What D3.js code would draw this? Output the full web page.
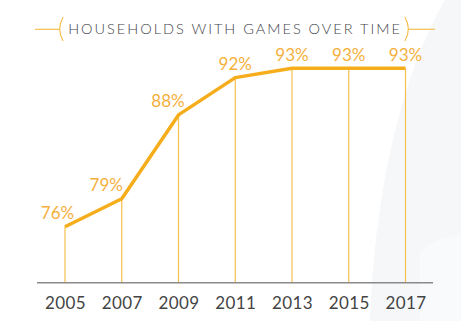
<!DOCTYPE html>
<html><head><meta charset="utf-8">
<script src="https://cdn.jsdelivr.net/npm/d3@7"></script>
<style>
html,body{margin:0;padding:0;background:#fff;}
svg{display:block;}
</style></head>
<body>
<svg id="chart" width="461" height="321"></svg>
<script>
const title = "HOUSEHOLDS WITH GAMES OVER TIME";
const years = ["2005","2007","2009","2011","2013","2015","2017"];
const values = [76, 79, 88, 92, 93, 93, 93];
const labels = ["76%","79%","88%","92%","93%","93%","93%"];

const W = 461, H = 321;
const svg = d3.select("#chart");

// faint decorative background shape
svg.append("path")
  .attr("d", "M461,0 L445,0 C405,70 375,180 370,321 L461,321 Z")
  .attr("fill", "#f5f7f9");
svg.append("path")
  .attr("d", "M461,235 C440,238 425,245 420,252 L420,321 L461,321 Z")
  .attr("fill", "#f9fafb");

const x = d3.scalePoint().domain(years).range([65, 405.5]);
const y = d3.scaleLinear().domain([70, 93]).range([282.7, 68.3]);

const gold = "#f6ad1b";
const light = "#f6bf4e";
const labelCol = "#f4b03c";

// vertical drop lines
svg.append("g").selectAll("line").data(years).join("line")
  .attr("x1", d => x(d)).attr("x2", d => x(d))
  .attr("y1", (d, i) => y(values[i])).attr("y2", y(70))
  .attr("stroke", light).attr("stroke-width", 1.2);

// axis
const axis = d3.axisBottom(x).tickSize(0).tickPadding(14);
const gA = svg.append("g").attr("transform", `translate(0,${y(70)})`).call(axis);
gA.select(".domain").remove();
gA.selectAll("text")
  .attr("font-family", "Lato, 'Open Sans', sans-serif")
  .attr("font-size", 17).attr("font-weight", 400)
  .attr("fill", "#444").attr("letter-spacing", 0.4);
svg.append("line")
  .attr("x1", 37).attr("x2", 433)
  .attr("y1", y(70)).attr("y2", y(70))
  .attr("stroke", "#8a8a8a").attr("stroke-width", 1.5);

// main line
const line = d3.line().x((d, i) => x(years[i])).y(d => y(d));
svg.append("path").datum(values)
  .attr("d", line)
  .attr("fill", "none").attr("stroke", gold)
  .attr("stroke-width", 3.5).attr("stroke-linejoin", "round");

// value labels (shifted left where the line rises steeply into the point)
const labelDx = [-7.5, -15.5, -10.5, 0, 0, 0, 0];
svg.append("g").selectAll("text").data(values).join("text")
  .attr("x", (d, i) => x(years[i]) + labelDx[i])
  .attr("y", (d, i) => y(d) - 7.5)
  .attr("text-anchor", "middle")
  .attr("font-family", "Lato, 'Open Sans', sans-serif")
  .attr("font-size", 17).attr("font-weight", 400)
  .attr("fill", labelCol)
  .text((d, i) => labels[i]);

// title
const tt = svg.append("text")
  .attr("x", 235).attr("y", 34)
  .attr("text-anchor", "middle")
  .attr("font-family", "Lato, 'Open Sans', sans-serif")
  .attr("font-size", 14.5).attr("font-weight", 300)
  .attr("letter-spacing", 2.0)
  .attr("fill", "#3f444a")
  .text(title);
const bb = tt.node().getBBox();
const lx = bb.x - 5, rx = bb.x + bb.width + 3;
svg.append("path")
  .attr("d", `M${lx},17 Q${lx - 7},29 ${lx},41`)
  .attr("fill", "none").attr("stroke", light).attr("stroke-width", 1.2);
svg.append("path")
  .attr("d", `M${rx},17 Q${rx + 7},29 ${rx},41`)
  .attr("fill", "none").attr("stroke", light).attr("stroke-width", 1.2);
svg.append("line").attr("x1", 35).attr("x2", lx - 3.5).attr("y1", 29.3).attr("y2", 29.3)
  .attr("stroke", light).attr("stroke-width", 1.2);
svg.append("line").attr("x1", rx + 3.5).attr("x2", 435).attr("y1", 29.3).attr("y2", 29.3)
  .attr("stroke", light).attr("stroke-width", 1.2);
</script>
</body></html>
